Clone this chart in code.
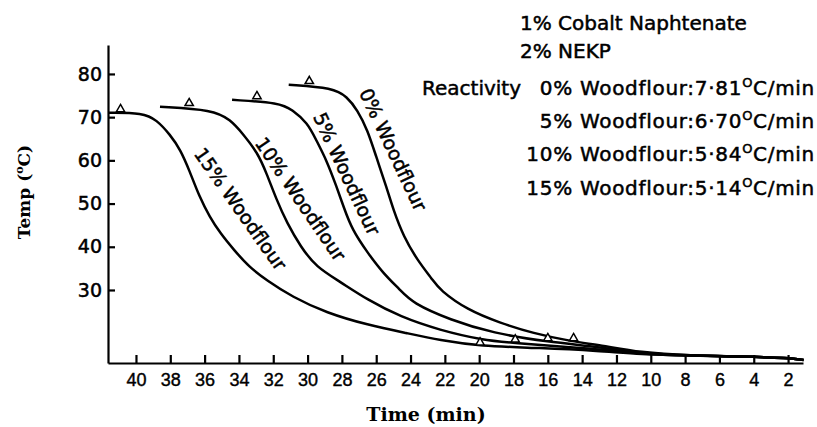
<!DOCTYPE html>
<html>
<head>
<meta charset="utf-8">
<script src="https://cdn.jsdelivr.net/npm/d3@7"></script>
<style>
  body { margin: 0; background: #fff; }
</style>
</head>
<body>
<div id="chart"></div>
<script>
// curves: [time (min), temp (C)]
const wood0 = [
  [31.1, 77.5], [28.5, 76.8], [27.7, 74.7], [27.1, 71.7], [26.5, 67.0],
  [26.0, 60.8], [25.4, 53.8], [25.0, 48.5], [24.4, 42.3], [23.6, 36.9],
  [22.7, 32.3], [22.3, 30.0], [20.7, 25.4], [18.8, 22.4], [16.9, 20.0],
  [14.5, 18.0], [13.0, 17.3], [10.6, 15.5], [7.7, 14.8], [4.8, 14.6],
  [1.9, 14.3], [1.1, 13.8]
]
const wood5 = [
  [34.4, 74.0], [31.6, 73.3], [30.9, 71.7], [30.0, 68.7], [29.5, 64.7],
  [28.9, 60.1], [28.3, 53.8], [27.9, 49.2], [27.4, 43.9], [26.5, 38.6],
  [25.6, 33.9], [24.6, 30.0], [23.9, 27.0], [21.7, 23.1], [19.2, 20.0],
  [16.0, 18.0], [13.0, 16.8], [10.6, 15.4], [7.7, 14.8], [4.8, 14.6],
  [1.9, 14.3], [1.1, 13.8]
]
const wood10 = [
  [38.6, 72.4], [35.5, 71.7], [34.5, 69.4], [33.8, 66.3], [32.9, 61.7],
  [32.4, 57.1], [31.8, 50.8], [31.2, 45.5], [30.4, 40.0], [29.5, 35.3],
  [28.1, 31.9], [26.5, 27.7], [24.6, 23.8], [22.3, 20.7], [19.8, 18.4],
  [17.9, 17.7], [14.9, 16.8], [13.0, 16.3], [10.6, 15.2], [7.7, 14.8],
  [4.8, 14.6], [1.9, 14.3], [1.1, 13.8]
]
const wood15 = [
  [41.6, 71.0], [39.6, 71.0], [38.8, 69.4], [38.0, 65.9], [37.4, 62.4],
  [36.9, 57.8], [36.3, 51.5], [35.7, 46.9], [35.1, 43.2], [34.3, 39.3],
  [33.4, 35.3], [32.4, 32.3], [30.9, 28.4], [28.9, 24.7], [26.5, 21.9],
  [24.2, 20.0], [22.3, 18.4], [19.95, 17.0], [16.5, 16.6], [13.0, 15.9],
  [10.6, 15.1], [7.7, 14.8], [4.8, 14.6], [1.9, 14.3], [1.1, 13.8]
]

const seriesNames = ['0% Woodflour', '5% Woodflour', '10% Woodflour', '15% Woodflour']
const reactivityRates = ['7·81', '6·70', '5·84', '5·14']
const notes = ['1% Cobalt Naphtenate', '2% NEKP']

// open triangles: start and end of the exotherm
const onsetMarks = [[29.9, 77.5], [32.95, 74.0], [36.9, 72.4], [40.9, 71.0]]
const endMarks = [[14.5, 18.0], [16.0, 18.0], [17.9, 17.7], [19.95, 17.0]]

const timeTicks = [40, 38, 36, 34, 32, 30, 28, 26, 24, 22, 20, 18, 16, 14, 12, 10, 8, 6, 4, 2]
const tempTicks = [30, 40, 50, 60, 70, 80]

// where the rotated curve names sit: [time, temp, angle]
const labelPlace = [[25.0, 62.5, 64.7], [27.7, 56.9, 65], [30.4, 51.1, 55.8], [33.9, 48.8, 54.8]]

const margin = { top: 45, left: 108, right: 14, bottom: 64 }
const width = 817 - margin.left - margin.right
const height = 427 - margin.top - margin.bottom

const svg = d3
  .select('#chart')
  .append('svg')
  .attr('width', width + margin.left + margin.right)
  .attr('height', height + margin.top + margin.bottom)

const g = svg
  .append('g')
  .attr('transform', 'translate(' + margin.left + ',' + margin.top + ')')

const xScale = d3
  .scaleLinear()
  .domain([41.63, 1.13])
  .range([0, width])

const yScale = d3
  .scaleLinear()
  .domain([13.1, 86.7])
  .range([height, 0])

// axes, ticks point inward
const xAxis = d3
  .axisBottom(xScale)
  .tickValues(timeTicks)
  .tickSizeInner(-8)
  .tickSizeOuter(0)
  .tickPadding(10)
  .tickFormat(d3.format('d'))

const yAxis = d3
  .axisLeft(yScale)
  .tickValues(tempTicks)
  .tickSizeInner(-7)
  .tickSizeOuter(0)
  .tickPadding(6)

const xg = g
  .append('g')
  .attr('transform', 'translate(0,' + height + ')')
  .call(xAxis)

xg.selectAll('text')
  .attr('font-family', 'Liberation Sans, Arial, sans-serif')
  .attr('font-size', 18)
  .attr('fill', '#000')
  .attr('stroke', '#000')
  .attr('stroke-width', 0.4)

const yg = g.append('g').call(yAxis)

yg.selectAll('text')
  .attr('font-family', 'DejaVu Sans, sans-serif')
  .attr('font-size', 19)
  .attr('fill', '#000')
  .attr('stroke', '#000')
  .attr('stroke-width', 0.5)

g.selectAll('.domain, .tick line')
  .attr('stroke', '#000')
  .attr('stroke-width', 2.2)

// curves
const line = d3
  .line()
  .x(d => xScale(d[0]))
  .y(d => yScale(d[1]))
  .curve(d3.curveBasis)

g.append('g')
  .selectAll('path')
  .data([wood0, wood5, wood10, wood15])
  .enter()
  .append('path')
  .attr('d', line)
  .attr('fill', 'none')
  .attr('stroke', '#000')
  .attr('stroke-width', 2.5)

const triangle = d3.symbol().type(d3.symbolTriangle).size(30)

g.append('g')
  .selectAll('path')
  .data(onsetMarks.concat(endMarks))
  .enter()
  .append('path')
  .attr('d', triangle)
  .attr('transform', d => `translate(${xScale(d[0])},${yScale(d[1]) - 3.6})`)
  .attr('fill', '#fff')
  .attr('stroke', '#000')
  .attr('stroke-width', 1.5)

// names along the curves
g.append('g')
  .selectAll('text')
  .data(seriesNames)
  .enter()
  .append('text')
  .attr('transform', (d, i) => {
    const p = labelPlace[i]
    return `translate(${xScale(p[0])},${yScale(p[1])}) rotate(${p[2]})`
  })
  .attr('text-anchor', 'middle')
  .attr('dominant-baseline', 'central')
  .attr('font-family', 'DejaVu Sans, sans-serif')
  .attr('font-size', 19)
  .attr('stroke', '#000')
  .attr('stroke-width', 0.5)
  .text(d => d)

// axis titles
const yTitle = svg
  .append('text')
  .attr('transform', 'translate(30,192) rotate(-90)')
  .attr('text-anchor', 'middle')
  .attr('font-family', 'DejaVu Serif, serif')
  .attr('font-weight', 'bold')
  .attr('font-size', 17)

yTitle.append('tspan').text('Temp (')
yTitle.append('tspan').attr('font-size', 11).attr('dy', -7).text('o')
yTitle.append('tspan').attr('dy', 7).text('C)')

svg
  .append('text')
  .attr('x', 426)
  .attr('y', 421)
  .attr('text-anchor', 'middle')
  .attr('font-family', 'DejaVu Serif, serif')
  .attr('font-weight', 'bold')
  .attr('font-size', 19)
  .text('Time (min)')

// notes, top right
const legend = svg
  .append('g')
  .attr('font-family', 'DejaVu Sans, sans-serif')
  .attr('font-size', 20)
  .attr('stroke', '#000')
  .attr('stroke-width', 0.5)

legend
  .selectAll('.note')
  .data(notes)
  .enter()
  .append('text')
  .attr('class', 'note')
  .attr('x', 520)
  .attr('y', (d, i) => 29.5 + i * 28)
  .text(d => d)

legend
  .append('text')
  .attr('x', 422)
  .attr('y', 94.5)
  .text('Reactivity')

const rowY = [94.5, 127.5, 161, 195]

const rows = legend
  .selectAll('.row')
  .data(seriesNames)
  .enter()
  .append('text')
  .attr('class', 'row')
  .attr('x', 815)
  .attr('y', (d, i) => rowY[i])
  .attr('text-anchor', 'end')
  .attr('letter-spacing', 0.7)

rows.append('tspan').text((d, i) => d + ':' + reactivityRates[i])
rows.append('tspan').attr('font-size', 13).attr('dy', -8).text('O')
rows.append('tspan').attr('dy', 8).text('C/min')
</script>
</body>
</html>
